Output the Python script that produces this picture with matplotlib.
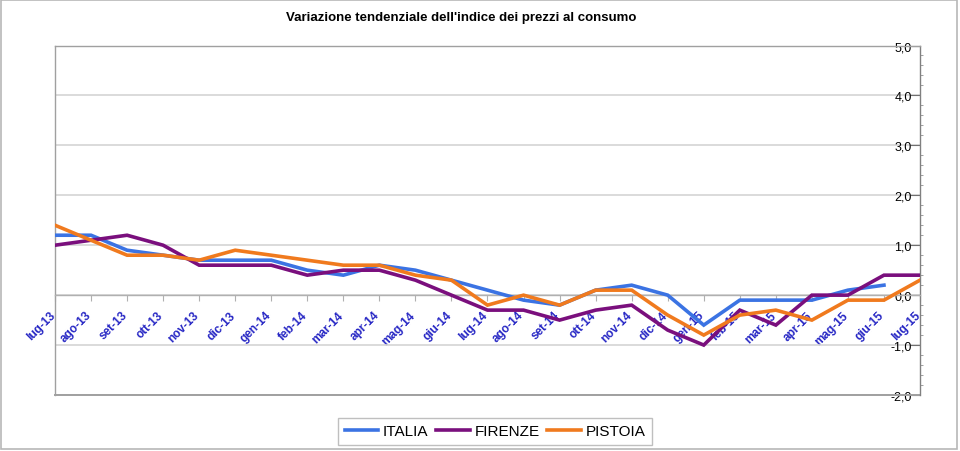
import matplotlib
matplotlib.use("Agg")
import matplotlib.pyplot as plt
import matplotlib.transforms as mtransforms
import numpy as np
from matplotlib.ticker import MultipleLocator, FuncFormatter
from matplotlib.patches import Rectangle

months = ["lug-13", "ago-13", "set-13", "ott-13", "nov-13", "dic-13", "gen-14", "feb-14",
          "mar-14", "apr-14", "mag-14", "giu-14", "lug-14", "ago-14", "set-14", "ott-14",
          "nov-14", "dic-14", "gen-15", "feb-15", "mar-15", "apr-15", "mag-15", "giu-15", "lug-15"]
italia = [1.2, 1.2, 0.9, 0.8, 0.7, 0.7, 0.7, 0.5, 0.4, 0.6, 0.5, 0.3, 0.1, -0.1, -0.2, 0.1,
          0.2, 0.0, -0.6, -0.1, -0.1, -0.1, 0.1, 0.2, np.nan]
firenze = [1.0, 1.1, 1.2, 1.0, 0.6, 0.6, 0.6, 0.4, 0.5, 0.5, 0.3, 0.0, -0.3, -0.3, -0.5, -0.3,
           -0.2, -0.7, -1.0, -0.3, -0.6, 0.0, 0.0, 0.4, 0.4]
pistoia = [1.4, 1.1, 0.8, 0.8, 0.7, 0.9, 0.8, 0.7, 0.6, 0.6, 0.4, 0.3, -0.2, 0.0, -0.2, 0.1,
           0.1, -0.4, -0.8, -0.4, -0.3, -0.5, -0.1, -0.1, 0.3]
series_names = ["ITALIA", "FIRENZE", "PISTOIA"]
colors = ["#3B73E3", "#7A0F7D", "#F07A1E"]
title = "Variazione tendenziale dell'indice dei prezzi al consumo"

plt.rcParams['font.family'] = ['Liberation Sans', 'DejaVu Sans']

fig = plt.figure(figsize=(9.6, 4.52), dpi=100)
ax = fig.add_axes([55/960, 56/452, 865/960, 349.5/452])

x = np.arange(len(months))
for vals, name, c in zip([italia, firenze, pistoia], series_names, colors):
    ax.plot(x, vals, color=c, lw=2.6, label=name, solid_joinstyle='miter', zorder=3)

ax.set_xlim(0, len(months) - 1)
ax.set_ylim(-2, 5)

# y axis on the right, labels inside
ax.yaxis.tick_right()
ax.yaxis.set_major_locator(MultipleLocator(1))
ax.yaxis.set_minor_locator(MultipleLocator(0.2))
ax.yaxis.set_major_formatter(FuncFormatter(lambda v, p: f"{v:.1f}".replace(".", ",")))
ax.tick_params(axis='y', which='major', direction='in', length=7, width=0.8,
               colors='#707070', labelcolor='black', labelsize=9, pad=-6)
ax.tick_params(axis='y', which='minor', direction='out', length=2, width=0.6, colors='#909090')
for lab in ax.get_yticklabels():
    lab.set_horizontalalignment('right')
ax.grid(axis='y', which='major', color='#D4D4D4', lw=1.2, zorder=1)

# x axis crossing at zero
ax.spines['bottom'].set_position(('data', 0))
ax.spines['bottom'].set_color('#B0B0B0')
ax.spines['bottom'].set_linewidth(1.0)
ax.set_xticks(x)
ax.set_xticklabels(months, rotation=45, ha='right', va='top', rotation_mode='anchor',
                   fontsize=8.5, fontweight='bold', color='#2626C4')
ax.tick_params(axis='x', direction='out', length=4, width=0.8, colors='#B0B0B0',
               labelcolor='#2626C4', pad=3)
offset = mtransforms.ScaledTranslation(-6/100, -4/100, fig.dpi_scale_trans)
for lab in ax.get_xticklabels():
    lab.set_transform(lab.get_transform() + offset)

for s in ['left', 'top']:
    ax.spines[s].set_color('#A0A0A0')
    ax.spines[s].set_linewidth(1.0)
ax.spines['right'].set_color('#808080')
ax.spines['right'].set_linewidth(1.0)
# bottom border of plot area
ax.axhline(-2, color='#A0A0A0', lw=1.4, zorder=2, clip_on=False)

fig.text(461/960, 1 - 18/452, title, ha='center', va='center', fontsize=9.5,
         fontweight='bold')

leg = fig.legend(loc='center', bbox_to_anchor=(495/960, 1 - 432.5/452), ncol=3,
                 frameon=True, fancybox=False, fontsize=11, handlelength=2.2,
                 handletextpad=0.3, columnspacing=0.5, borderpad=0.45)
leg.get_frame().set_edgecolor('#B0B0B0')
leg.get_frame().set_linewidth(1.0)

fig.patches.append(Rectangle((1/960, 2/452), 956/960, 449/452, transform=fig.transFigure,
                             fill=False, edgecolor='#B8B8B8', lw=1.2))

fig.savefig("out.png", dpi=100, facecolor='white')
